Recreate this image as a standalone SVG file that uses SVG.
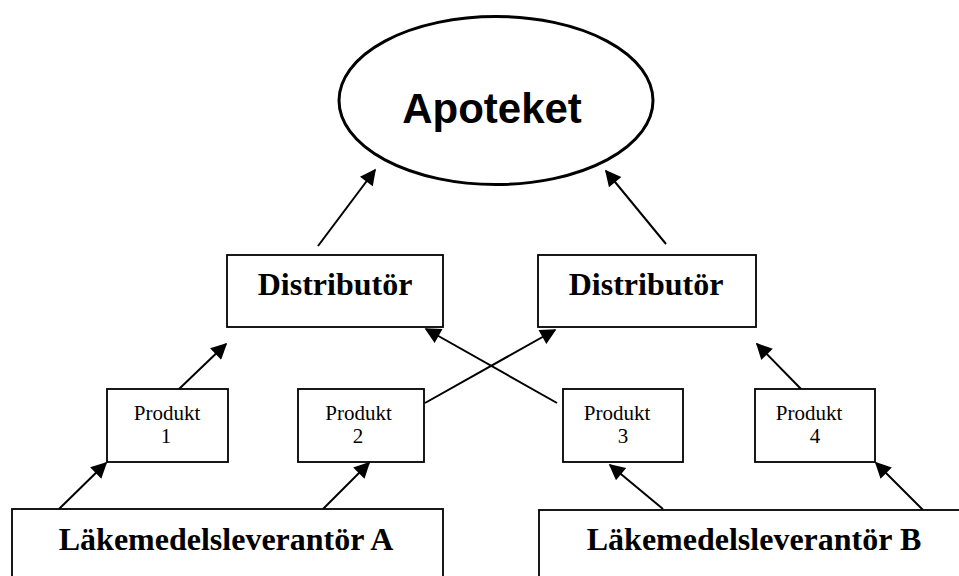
<svg xmlns="http://www.w3.org/2000/svg" width="959" height="576" viewBox="0 0 959 576">
  <style>
    .box { fill: #fff; stroke: #000; stroke-width: 1.8; }
    .oval { fill: #fff; stroke: #000; stroke-width: 3; }
    .big { font-family: "Liberation Serif", "Times New Roman", serif; font-weight: bold; font-size: 32px; fill: #000; text-anchor: middle; }
    .small { font-family: "Liberation Serif", "Times New Roman", serif; font-size: 21px; fill: #000; text-anchor: middle; }
    .title { font-family: "Liberation Sans", Arial, sans-serif; font-weight: bold; font-size: 42px; fill: #000; text-anchor: middle; }
    .link { stroke: #000; stroke-width: 2; fill: none; marker-end: url(#arrow); }
  </style>
  <defs>
    <marker id="arrow" viewBox="0 0 10 10" refX="9" refY="5" markerWidth="19" markerHeight="16" markerUnits="userSpaceOnUse" orient="auto">
      <path d="M0,0 L10,5 L0,10 z" fill="#000"/>
    </marker>
  </defs>

  <rect width="959" height="576" fill="#fff"/>

  <!-- connectors -->
  <g id="connectors">
    <line class="link" x1="318" y1="246" x2="375" y2="170"/>
    <line class="link" x1="666" y1="244" x2="606" y2="171"/>
    <line class="link" x1="178" y1="390" x2="226" y2="344"/>
    <line class="link" x1="557" y1="403" x2="426" y2="329"/>
    <line class="link" x1="425" y1="403" x2="555" y2="330"/>
    <line class="link" x1="802" y1="390" x2="757" y2="344"/>
    <line class="link" x1="59" y1="509" x2="106" y2="463"/>
    <line class="link" x1="323" y1="509" x2="369" y2="463"/>
    <line class="link" x1="663" y1="509" x2="610" y2="465"/>
    <line class="link" x1="923" y1="510" x2="876" y2="463"/>
  </g>

  <!-- top -->
  <g id="apoteket">
    <ellipse class="oval" cx="496" cy="100.5" rx="157" ry="84"/>
    <text class="title" x="492" y="123">Apoteket</text>
  </g>

  <!-- distributors -->
  <g id="distributor-1">
    <rect class="box" x="227" y="255" width="216" height="72"/>
    <text class="big" x="335" y="295">Distributör</text>
  </g>
  <g id="distributor-2">
    <rect class="box" x="538" y="255" width="218" height="72"/>
    <text class="big" x="646" y="295">Distributör</text>
  </g>

  <!-- products -->
  <g id="produkt-1">
    <rect class="box" x="107" y="389" width="121" height="73"/>
    <text class="small" x="167" y="420">Produkt</text>
    <text class="small" x="166" y="443">1</text>
  </g>
  <g id="produkt-2">
    <rect class="box" x="298" y="389" width="126" height="73"/>
    <text class="small" x="358.5" y="420">Produkt</text>
    <text class="small" x="358" y="443">2</text>
  </g>
  <g id="produkt-3">
    <rect class="box" x="563" y="389" width="120" height="73"/>
    <text class="small" x="617" y="420">Produkt</text>
    <text class="small" x="623" y="443">3</text>
  </g>
  <g id="produkt-4">
    <rect class="box" x="755" y="389" width="120" height="73"/>
    <text class="small" x="809" y="420">Produkt</text>
    <text class="small" x="815" y="443">4</text>
  </g>

  <!-- suppliers -->
  <g id="leverantor-a">
    <rect class="box" x="12" y="509" width="431" height="80"/>
    <text class="big" x="226" y="550">Läkemedelsleverantör A</text>
  </g>
  <g id="leverantor-b">
    <rect class="box" x="539" y="510" width="440" height="80"/>
    <text class="big" x="754" y="550">Läkemedelsleverantör B</text>
  </g>
</svg>
